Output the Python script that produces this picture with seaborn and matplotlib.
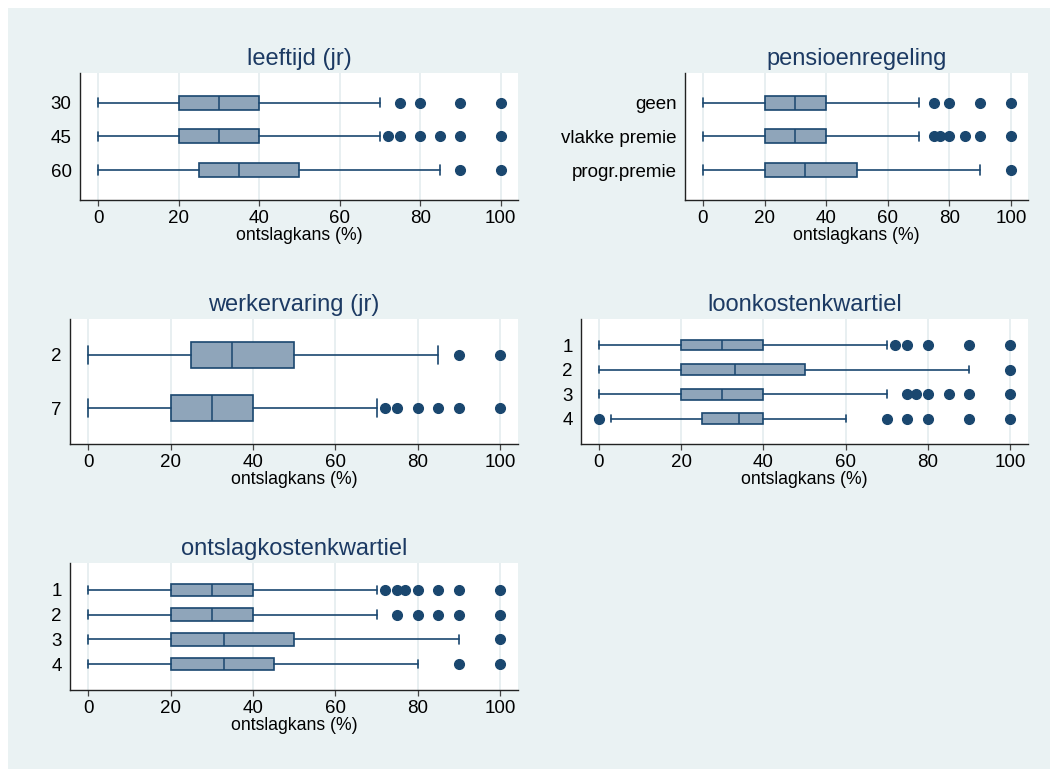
import numpy as np
import pandas as pd
import seaborn as sns
import matplotlib.pyplot as plt
from matplotlib.patches import Rectangle

# waarden: (min whisker, Q1, mediaan, Q3, max whisker)
leeftijd_cat = ["30", "45", "60"]
leeftijd_box = [(0, 20, 30, 40, 70), (0, 20, 30, 40, 70), (0, 25, 35, 50, 85)]
leeftijd_out = [[75, 80, 90, 100], [72, 75, 80, 85, 90, 100], [90, 100]]

pensioen_cat = ["geen", "vlakke premie", "progr.premie"]
pensioen_box = [(0, 20, 30, 40, 70), (0, 20, 30, 40, 70), (0, 20, 33, 50, 90)]
pensioen_out = [[75, 80, 90, 100], [75, 77, 80, 85, 90, 100], [100]]

werk_cat = ["2", "7"]
werk_box = [(0, 25, 35, 50, 85), (0, 20, 30, 40, 70)]
werk_out = [[90, 100], [72, 75, 80, 85, 90, 100]]

loon_cat = ["1", "2", "3", "4"]
loon_box = [(0, 20, 30, 40, 70), (0, 20, 33, 50, 90), (0, 20, 30, 40, 70), (3, 25, 34, 40, 60)]
loon_out = [[72, 75, 80, 90, 100], [100], [75, 77, 80, 85, 90, 100], [0, 70, 75, 80, 90, 100]]

ontslag_cat = ["1", "2", "3", "4"]
ontslag_box = [(0, 20, 30, 40, 70), (0, 20, 30, 40, 70), (0, 20, 33, 50, 90), (0, 20, 33, 45, 80)]
ontslag_out = [[72, 75, 77, 80, 85, 90, 100], [75, 80, 85, 90, 100], [100], [90, 100]]

xticks = [0, 20, 40, 60, 80, 100]
xlabel = "ontslagkans (%)"

BG = "#EAF2F3"
NAVY = "#1a476f"
FILL = "#8FA5BA"
TITLE = "#1c3a63"

sns.set_theme(style="white")
plt.rcParams["font.family"] = ["Liberation Sans", "DejaVu Sans"]

fig = plt.figure(figsize=(10.5, 7.69), dpi=100)
fig.patch.set_facecolor(BG)
# witte rand boven en links
fig.patches.append(Rectangle((0, 1 - 8 / 769), 1, 8 / 769, transform=fig.transFigure,
                             facecolor="white", edgecolor="none", zorder=-1))
fig.patches.append(Rectangle((0, 0), 8 / 1050, 1, transform=fig.transFigure,
                             facecolor="white", edgecolor="none", zorder=-1))

panels = [
    ("leeftijd (jr)", leeftijd_cat, leeftijd_box, leeftijd_out,
     [80, 73, 518, 200], (-4.5, 104.3), 0.88, 0.89, 0.42),
    ("pensioenregeling", pensioen_cat, pensioen_box, pensioen_out,
     [685, 73, 1028, 200], (-5.8, 105.5), 0.88, 0.89, 0.41),
    ("werkervaring (jr)", werk_cat, werk_box, werk_out,
     [70, 319, 518, 444], (-4.4, 104.3), 0.675, 0.67, 0.49),
    ("loonkostenkwartiel", loon_cat, loon_box, loon_out,
     [581, 319, 1028, 444], (-4.3, 104.3), 1.06, 1.03, 0.44),
    ("ontslagkostenkwartiel", ontslag_cat, ontslag_box, ontslag_out,
     [70, 563, 518, 690], (-4.4, 104.3), 1.09, 1.05, 0.52),
]

W, H = 1050, 769
for title, cats, boxes, outs, (l, t, r, b), xlim, top_m, bot_m, bw in panels:
    ax = fig.add_axes([l / W, 1 - b / H, (r - l) / W, (b - t) / H])
    ax.set_facecolor("white")

    stats = []
    for cat, (lo, q1, med, q3, hi), fl in zip(cats, boxes, outs):
        stats.append({"label": cat, "whislo": lo, "q1": q1, "med": med,
                      "q3": q3, "whishi": hi, "fliers": fl})
    n = len(cats)
    ax.bxp(stats, positions=range(n), orientation="horizontal", widths=bw,
           capwidths=bw * 0.68, patch_artist=True, manage_ticks=False,
           boxprops=dict(facecolor=FILL, edgecolor=NAVY, linewidth=1.2),
           medianprops=dict(color=NAVY, linewidth=1.1),
           whiskerprops=dict(color=NAVY, linewidth=1.2),
           capprops=dict(color=NAVY, linewidth=1.2),
           flierprops=dict(marker="o", markerfacecolor=NAVY, markeredgecolor=NAVY,
                           markersize=7, linestyle="none"),
           zorder=3)

    ax.set_xlim(*xlim)
    ax.set_ylim(n - 1 + bot_m, -top_m)
    ax.set_xticks(xticks)
    ax.set_yticks(range(n))
    ax.set_yticklabels(cats)
    ax.xaxis.grid(True, color="#E6EEF0", linewidth=1.3, zorder=0)
    ax.yaxis.grid(False)
    ax.set_axisbelow(True)

    sns.despine(ax=ax)
    for s in ["left", "bottom"]:
        ax.spines[s].set_color("#222222")
        ax.spines[s].set_linewidth(1.0)

    ax.tick_params(axis="x", direction="out", length=4.5, width=0.9, color="#444444",
                   labelsize=13.5, labelcolor="black", pad=3, bottom=True)
    ax.tick_params(axis="y", length=0, labelsize=13.5, labelcolor="black", pad=6)
    ax.set_xlabel(xlabel, fontsize=12.7, labelpad=0, color="black")
    ax.set_title(title, fontsize=17, color=TITLE, pad=6)

fig.savefig("out.png", dpi=100, facecolor=fig.get_facecolor())
